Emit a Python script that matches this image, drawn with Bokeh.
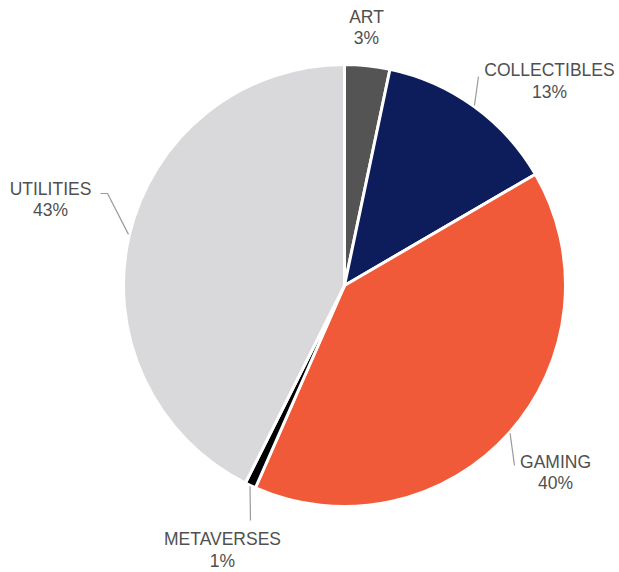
import math
from bokeh.plotting import figure
from bokeh.models import Range1d, ColumnDataSource
from bokeh.core.properties import value
from bokeh.embed import file_html
from bokeh.resources import INLINE

# ---- data ----
categories = ["ART", "COLLECTIBLES", "GAMING", "METAVERSES", "UTILITIES"]
shares = [3.3, 13.3, 40.0, 0.8, 42.6]
pct_labels = ["3%", "13%", "40%", "1%", "43%"]
colors = ["#545454", "#0d1c5a", "#f15a38", "#000000", "#d9d9db"]

# ---- layout (page pixel coordinates) ----
W, H = 619, 572
CX, CY, R = 344, 285, 221

p = figure(width=W, height=H, output_backend="svg", toolbar_location=None,
           x_range=Range1d(0, W), y_range=Range1d(-H, 0),
           min_border=0, outline_line_color=None)
p.axis.visible = False
p.grid.visible = False
p.background_fill_color = "white"
p.border_fill_color = "white"

total = sum(shares)
starts, ends, mids = [], [], []
cum = 0.0
for s in shares:
    a0 = math.pi / 2 - 2 * math.pi * cum / total
    cum += s
    a1 = math.pi / 2 - 2 * math.pi * cum / total
    starts.append(a0)
    ends.append(a1)
    mids.append((a0 + a1) / 2)

src = ColumnDataSource(dict(start=starts, end=ends, color=colors, cat=categories))
p.wedge(x=CX, y=-CY, radius=R, start_angle="start", end_angle="end",
        direction="clock", fill_color="color", line_color="white",
        line_width=3, source=src)

# label placement (name centre, pct centre) and leader end points
label_pos = {
    "ART": (366, 16, 37),
    "COLLECTIBLES": (549, 69, 91),
    "GAMING": (555, 461, 482),
    "METAVERSES": (222, 538, 560),
    "UTILITIES": (50, 188, 209),
}
leader_ends = {
    "COLLECTIBLES": [(478, 76)],
    "GAMING": [(514, 465)],
    "METAVERSES": [(250, 520)],
    "UTILITIES": [(107, 193), (100, 193)],
}

for cat, pct, m in zip(categories, pct_labels, mids):
    if cat in leader_ends:
        sx = CX + (R + 1) * math.cos(m)
        sy = CY - (R + 1) * math.sin(m)
        xs = [sx] + [q[0] for q in leader_ends[cat]]
        ys = [-sy] + [-q[1] for q in leader_ends[cat]]
        p.line(xs, ys, line_color="#9a9a9a", line_width=1.2)
    lx, ny, py = label_pos[cat]
    p.text(x=[lx, lx], y=[-ny, -py], text=[cat, pct],
           text_align="center", text_baseline="middle",
           text_font=value("Liberation Sans"), text_font_size="17.5px",
           text_color="#505050")

open("out.html", "w").write(file_html(p, INLINE))
